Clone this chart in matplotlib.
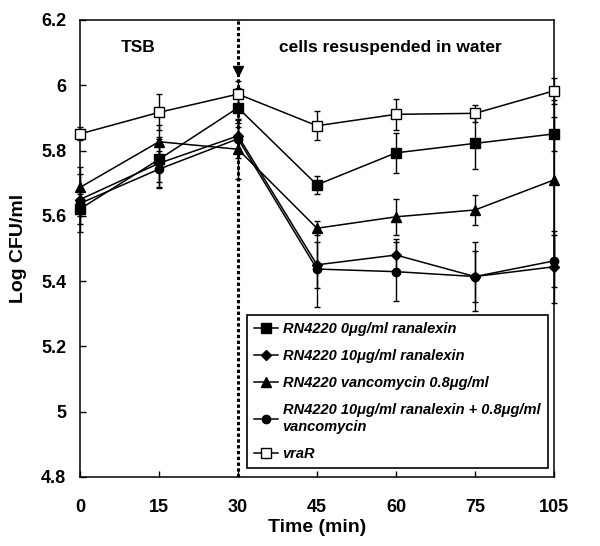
import numpy as np
import matplotlib
matplotlib.use('Agg')
import matplotlib.pyplot as plt
from matplotlib.ticker import FuncFormatter

plt.rcParams['font.family'] = ['Liberation Sans', 'DejaVu Sans']
plt.rcParams['font.weight'] = 'bold'

## time points (equally spaced categories)
time_labels = ['0', '15', '30', '45', '60', '75', '105']

## Log CFU/ml values and error bars
ran0 = [5.621, 5.773, 5.931, 5.695, 5.793, 5.822, 5.851]
ran0_err = [0.045, 0.07, 0.06, 0.028, 0.062, 0.08, 0.052]
ran10 = [5.650, 5.761, 5.845, 5.450, 5.480, 5.414, 5.444]
ran10_err = [0.10, 0.075, 0.04, 0.07, 0.05, 0.105, 0.11]
vanc = [5.687, 5.827, 5.804, 5.562, 5.597, 5.618, 5.710]
vanc_err = [0.04, 0.05, 0.09, 0.022, 0.055, 0.045, 0.245]
combo = [5.638, 5.743, 5.836, 5.437, 5.429, 5.414, 5.462]
combo_err = [0.04, 0.055, 0.06, 0.115, 0.09, 0.077, 0.08]
vrar = [5.851, 5.917, 5.973, 5.876, 5.911, 5.914, 5.983]
vrar_err = [0.02, 0.055, 0.04, 0.045, 0.047, 0.026, 0.04]

series = [
    (ran0, ran0_err, 's', 'black', 6.5, 'RN4220 0μg/ml ranalexin'),
    (ran10, ran10_err, 'D', 'black', 5, 'RN4220 10μg/ml ranalexin'),
    (vanc, vanc_err, '^', 'black', 7, 'RN4220 vancomycin 0.8μg/ml'),
    (combo, combo_err, 'o', 'black', 6, 'RN4220 10μg/ml ranalexin + 0.8μg/ml\nvancomycin'),
    (vrar, vrar_err, 's', 'white', 7, 'vraR'),
]

x = np.arange(len(time_labels))

fig = plt.figure(figsize=(6, 5.46), dpi=100)
ax = fig.add_axes([0.1333, 0.1264, 0.79, 0.837])

## dotted marker line at 30 min with arrow head
ax.axvline(2, color='black', lw=2.2, linestyle=(0, (1.1, 0.8)), zorder=1)
ax.plot([2], [6.045], marker='v', color='black', markersize=7, zorder=2)

for i, (y, err, mk, fc, ms, lab) in enumerate(series):
    eb = ax.errorbar(x, y, yerr=err, fmt='none', ecolor='black', elinewidth=1,
                     capsize=2.5, capthick=1, zorder=3 + i)
    for art in eb.get_children():
        art.set_clip_on(False)
    ln, = ax.plot(x, y, marker=mk, color='black', markerfacecolor=fc,
                  markeredgecolor='black', markersize=ms, lw=1.1, label=lab,
                  zorder=4 + i)
    ln.set_clip_on(False)

ax.set_xlim(0, 6)
ax.set_ylim(4.8, 6.2)
ax.set_xticks(x)
ax.set_xticklabels(time_labels)
ax.set_yticks(np.arange(4.8, 6.21, 0.2))
ax.yaxis.set_major_formatter(FuncFormatter(lambda v, p: '%g' % round(v, 1)))
ax.tick_params(axis='both', direction='in', length=4, width=1, labelsize=13)
ax.tick_params(axis='x', pad=16)
ax.tick_params(axis='y', pad=10)
for lbl in ax.get_xticklabels() + ax.get_yticklabels():
    lbl.set_fontweight('bold')
for sp in ax.spines.values():
    sp.set_linewidth(1.1)

ax.set_xlabel('Time (min)', fontsize=14, fontweight='bold', labelpad=2)
ax.set_ylabel('Log CFU/ml', fontsize=14, fontweight='bold', labelpad=10)

ax.text(0.73, 6.117, 'TSB', fontsize=12.5, fontweight='bold', ha='center', va='center')
ax.text(3.93, 6.117, 'cells resuspended in water', fontsize=12.5, fontweight='bold',
        ha='center', va='center')

leg = ax.legend(loc='lower left', bbox_to_anchor=(0.352, 0.0197, 0.635, 0.33),
                mode='expand', borderaxespad=0, fancybox=False, framealpha=1,
                edgecolor='black', handlelength=1.65, handletextpad=0.3,
                labelspacing=0.9, borderpad=0.5,
                prop={'size': 10.5, 'weight': 'bold', 'style': 'italic'})
leg.get_frame().set_linewidth(1.2)
leg.set_zorder(20)

fig.savefig('out.png', dpi=100)
